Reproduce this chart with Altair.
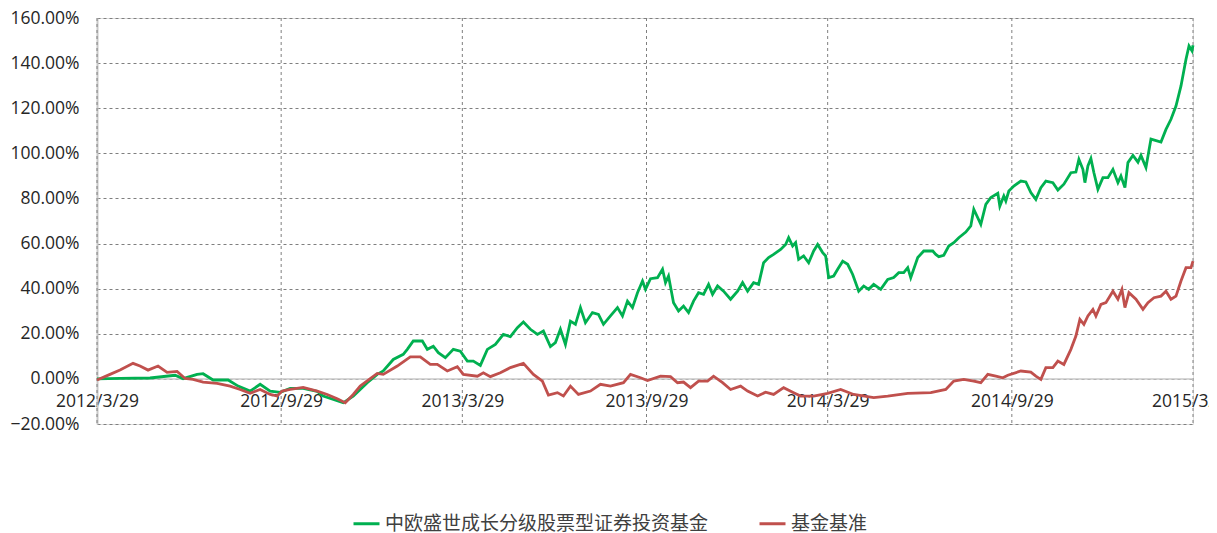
import altair as alt
import pandas as pd

START = "2012-03-29"
FUND = "中欧盛世成长分级股票型证券投资基金"
BENCH = "基金基准"

# day offsets from 2012-03-29 and cumulative return (%)
fund_days = [0, 23, 53, 78, 86, 100, 106, 116, 131, 141, 153, 163, 173, 183, 193, 206, 220, 226, 246, 256,
             270, 280, 286, 296, 306, 310, 316, 325, 330, 336, 341, 348, 356, 363, 370, 376, 383, 390, 398,
             406, 413, 420, 426, 433, 440, 446, 453, 458, 463, 468, 473, 478, 483, 488, 495, 501, 506, 513,
             520, 525, 530, 535, 540, 545, 548, 553, 560, 565, 568, 571, 576, 581, 586, 591, 596, 601, 606,
             611, 615, 620, 626, 633, 640, 645, 650, 656, 661, 666, 671, 676, 683, 688, 691, 695, 698, 701,
             706, 711, 716, 720, 725, 728, 731, 736, 740, 745, 750, 755, 761, 766, 771, 776, 783, 790, 796,
             801, 806, 810, 813, 820, 826, 835, 838, 841, 846, 851, 856, 861, 868, 873, 876, 883, 888, 893,
             900, 902, 906, 908, 911, 916, 923, 928, 933, 938, 943, 948, 955, 960, 966, 973, 978, 981, 985,
             987, 990, 993, 996, 1000, 1005, 1010, 1015, 1020, 1023, 1027, 1030, 1035, 1040, 1043, 1048,
             1053, 1063, 1068, 1073, 1078, 1083, 1088, 1091, 1094, 1095]
fund_vals = [0.0, 0.2, 0.4, 1.6, 0.1, 2.0, 2.3, -0.5, -0.5, -3.2, -5.4, -2.4, -5.4, -6.0, -4.2, -4.2,
             -5.5, -7.6, -10.6, -7.6, -1.7, 2.0, 3.5, 8.6, 10.9, 13.1, 16.8, 16.8, 13.1, 14.5, 11.6, 9.4,
             13.1, 12.3, 7.9, 7.9, 6.0, 13.1, 15.3, 19.7, 18.7, 22.7, 25.2, 22.0, 19.7, 21.2, 14.3, 16.1,
             22.0, 15.3, 25.6, 24.2, 31.6, 24.9, 29.4, 28.6, 24.2, 27.9, 31.6, 27.9, 34.5, 31.6, 38.2, 43.4,
             39.7, 44.4, 44.9, 48.6, 42.7, 45.6, 33.8, 30.1, 32.3, 29.4, 34.5, 38.2, 37.5, 41.9, 37.5, 41.2,
             38.9, 35.3, 38.9, 42.7, 38.9, 42.7, 41.9, 51.5, 53.8, 55.2, 57.4, 59.6, 62.6, 58.9, 60.4, 53.0,
             54.5, 51.5, 56.7, 59.6, 56.0, 54.5, 44.9, 45.6, 48.6, 52.2, 50.8, 46.3, 38.9, 41.2, 39.7, 41.9,
             39.7, 44.1, 44.9, 47.1, 47.1, 49.3, 44.9, 53.8, 56.7, 56.7, 55.2, 54.2, 54.8, 58.9, 60.4, 62.6,
             65.1, 67.8, 75.2, 68.5, 77.4, 80.4, 82.3, 76.6, 81.1, 78.9, 83.3, 85.5, 87.7, 87.3, 82.6, 79.6,
             84.8, 87.7, 87.0, 83.7, 86.3, 91.4, 91.7, 97.3, 92.9, 87.0, 94.4, 97.7, 91.4, 84.0, 89.2, 89.2,
             92.9, 87.0, 89.9, 84.8, 95.9, 99.1, 96.1, 99.1, 93.7, 106.3, 105.0, 110.6, 115.1, 121.0, 129.9,
             141.7, 147.6, 145.4, 147.9]

bench_days = [0, 13, 23, 36, 43, 51, 61, 70, 80, 88, 96, 106, 120, 133, 143, 153, 163, 173, 180, 185,
              193, 206, 220, 230, 240, 248, 256, 263, 273, 280, 286, 300, 313, 323, 333, 340, 350, 360, 366,
              380, 386, 393, 403, 413, 426, 436, 445, 451, 460, 466, 473, 481, 493, 503, 513, 526, 533, 543,
              550, 563, 573, 580, 586, 593, 601, 610, 616, 625, 633, 643, 650, 660, 668, 676, 686, 696, 703,
              716, 730, 743, 756, 776, 790, 810, 833, 848, 856, 866, 876, 883, 890, 898, 905, 910, 923, 933,
              938, 943, 948, 955, 960, 966, 973, 978, 982, 986, 990, 995, 998, 1003, 1008, 1015, 1020, 1024,
              1027, 1031, 1038, 1045, 1050, 1056, 1063, 1068, 1073, 1078, 1083, 1088, 1093, 1095]
bench_vals = [-0.5, 2.0, 3.9, 6.9, 5.7, 3.9, 5.7, 2.9, 3.3, 0.2, -0.2, -1.4, -2.0, -3.2, -4.7, -6.4,
              -4.7, -6.9, -7.6, -5.4, -4.7, -3.8, -5.4, -6.9, -8.8, -10.6, -6.9, -3.2, 0.1, 2.4, 2.0, 5.7,
              9.8, 9.8, 6.4, 6.4, 3.5, 5.4, 2.0, 1.2, 2.7, 1.0, 2.7, 5.0, 6.9, 2.0, -1.0, -7.2, -6.1, -7.6,
              -3.2, -6.9, -5.4, -2.4, -3.2, -1.7, 2.0, 0.5, -0.7, 1.2, 1.0, -1.7, -1.4, -3.9, -1.0, -1.0, 1.2,
              -1.7, -4.7, -3.2, -5.4, -7.6, -5.9, -6.9, -3.9, -6.1, -7.6, -7.6, -6.4, -4.7, -6.9, -8.3, -7.6,
              -6.4, -6.1, -4.7, -1.0, -0.2, -1.0, -1.7, 2.0, 1.2, 0.5, 1.6, 3.5, 3.0, 1.2, -0.2, 5.0, 5.0,
              7.9, 6.4, 13.1, 19.0, 26.4, 24.2, 27.9, 30.8, 27.9, 33.0, 33.8, 38.9, 35.3, 39.7, 31.6, 38.2,
              35.3, 30.8, 33.8, 36.0, 36.7, 38.9, 35.3, 36.7, 43.4, 49.3, 49.3, 52.2]

tick_dates = ["2012-03-29", "2012-09-29", "2013-03-29", "2013-09-29", "2014-03-29", "2014-09-29", "2015-03-29"]
y_ticks = [-20, 0, 20, 40, 60, 80, 100, 120, 140, 160]

base = pd.Timestamp(START)
fund_df = pd.DataFrame({"date": [(base + pd.Timedelta(days=d)).strftime("%Y-%m-%dT00:00:00") for d in fund_days],
                        "value": fund_vals, "series": FUND})
bench_df = pd.DataFrame({"date": [(base + pd.Timedelta(days=d)).strftime("%Y-%m-%dT00:00:00") for d in bench_days],
                         "value": bench_vals, "series": BENCH})
grid_df = pd.DataFrame({"date": [t + "T00:00:00" for t in tick_dates]})
zero_df = pd.DataFrame({"value": [0]})

def dt(s):
    y, m, d = [int(p) for p in s.split("-")]
    return alt.DateTime(year=y, month=m, date=d)

x_scale = alt.Scale(domain=[dt(tick_dates[0]), dt(tick_dates[-1])])
y_scale = alt.Scale(domain=[-20, 160])
color_scale = alt.Scale(domain=[FUND, BENCH], range=["#00B050", "#C0504D"])

x_axis = alt.Axis(values=[dt(t) for t in tick_dates], format="%Y/%-m/%-d", title=None, grid=False,
                  domain=False, ticks=False, offset=-45.1, labelPadding=14, labelFont="Open Sans",
                  labelFontSize=17.5, labelColor="#262626", labelOverlap=False, labelFlush=False)
y_axis = alt.Axis(values=y_ticks, title=None, labelExpr="format(datum.value, '.2f') + '%'",
                  grid=True, gridColor="#7f7f7f", gridDash=[3, 3], gridWidth=1,
                  domain=True, domainColor="#c8c8c8", domainWidth=2, ticks=False, labelPadding=18,
                  labelFont="Open Sans", labelFontSize=17.5, labelColor="#262626")

vgrid = alt.Chart(grid_df).mark_rule(color="#7f7f7f", strokeDash=[3, 3], strokeWidth=1).encode(
    x=alt.X("date:T", scale=x_scale, axis=x_axis)
)
zero = alt.Chart(zero_df).mark_rule(color="#c8c8c8", strokeWidth=1.5).encode(
    y=alt.Y("value:Q", scale=y_scale, axis=y_axis)
)

legend = alt.Legend(title=None, orient="none", legendX=255, legendY=491, direction="horizontal",
                    symbolType="stroke", symbolSize=676, symbolStrokeWidth=3, labelFont="Noto Sans CJK SC",
                    labelFontSize=19, labelColor="#404040", columnPadding=44, labelOffset=4, padding=0,
                    labelLimit=1000)

def line(df):
    return alt.Chart(df).mark_line(strokeWidth=2.8, interpolate="linear").encode(
        x=alt.X("date:T", scale=x_scale, axis=x_axis),
        y=alt.Y("value:Q", scale=y_scale, axis=y_axis),
        color=alt.Color("series:N", scale=color_scale, legend=legend),
    )

chart = alt.layer(vgrid, zero, line(fund_df), line(bench_df)).properties(
    width=1096, height=406,
    autosize=alt.AutoSizeParams(type="none"),
    padding={"left": 89, "top": 10, "right": 16, "bottom": 110},
).configure_view(stroke=None).configure(background="white")

chart.save("out.html", embed_options={"renderer": "svg", "actions": False})
